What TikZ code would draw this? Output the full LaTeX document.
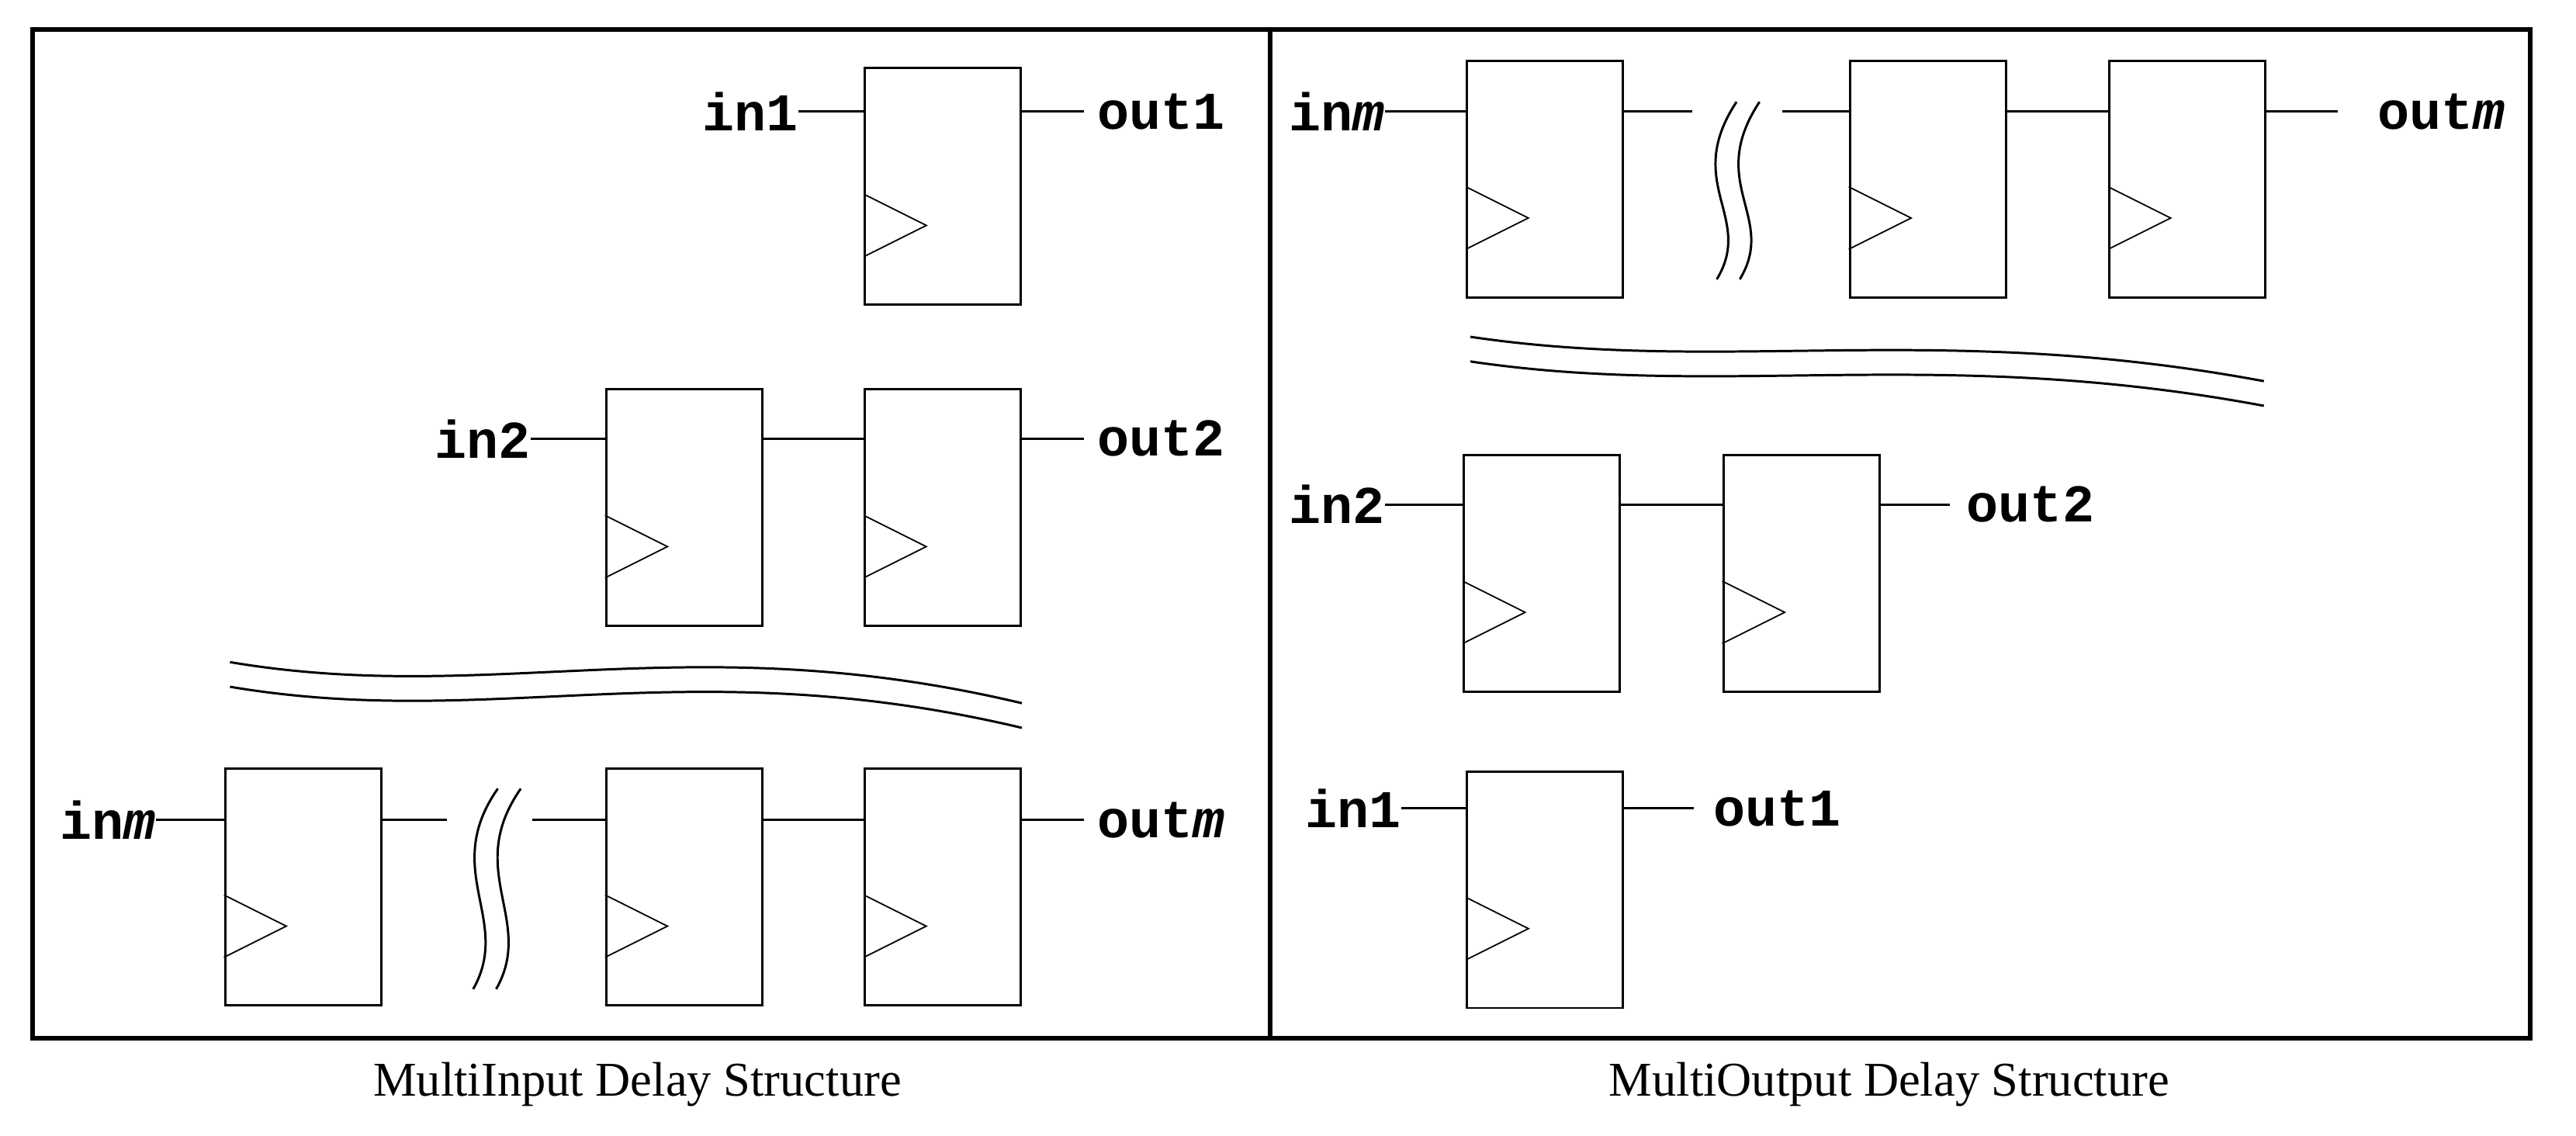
\documentclass[tikz,border=0pt]{standalone}
\usepackage{fontspec}
\setmainfont{Liberation Serif}
\newfontfamily\mono{Liberation Mono}
\begin{document}
\begin{tikzpicture}[x=0.05cm,y=-0.05cm,
 ff/.style={draw,line width=2pt,minimum width=4.75cm,minimum height=7.2cm,inner sep=0pt},
 w/.style={line width=2pt},
 lbl/.style={font=\mono\bfseries\fontsize{46}{50}\selectfont,inner sep=0pt},
 captxt/.style={font=\fontsize{42}{48}\selectfont}]
\useasboundingbox (0,0) rectangle (1568,691);
\draw[line width=4pt] (20,18) rectangle (1540,632);
\draw[line width=4pt] (773,18) -- (773,632);
\node[captxt] (t1) at (388,660) {MultiInput Delay Structure};
\node[captxt] (t2) at (1150,660) {MultiOutput Delay Structure};
% left
\node[ff] (a1) at (574,113.5) {};
\node[ff] (b1) at (416.5,309) {};
\node[ff] (b2) at (574,309) {};
\node[ff] (c1) at (184.5,540) {};
\node[ff] (c2) at (416.5,540) {};
\node[ff] (c3) at (574,540) {};
% right
\node[ff] (d1) at (940.5,109) {};
\node[ff] (d2) at (1173.5,109) {};
\node[ff] (d3) at (1331.5,109) {};
\node[ff] (e1) at (938.5,349) {};
\node[ff] (e2) at (1096.5,349) {};
\node[ff] (f1) at (940.5,541.5) {};
\foreach \b in {a1,b1,b2,c1,c2,c3,d1,d2,d3,e1,e2,f1}
 \draw[line width=1.2pt] ([yshift=1.5cm]\b.south west) -- ([xshift=1.9cm,yshift=2.45cm]\b.south west) -- ([yshift=3.4cm]\b.south west);
% labels
\node[lbl,anchor=east] (i1) at (486,68) {in1};
\node[lbl,anchor=west] (o1) at (668,68) {out1};
\node[lbl,anchor=east] (i2) at (323,267) {in2};
\node[lbl,anchor=west] (o2) at (668,267) {out2};
\node[lbl,anchor=east] (im) at (95,499) {in\textit{m}};
\node[lbl,anchor=west] (om) at (668,499) {out\textit{m}};
\node[lbl,anchor=east] (ri) at (843,68) {in\textit{m}};
\node[lbl,anchor=west] (ro) at (1447,68) {out\textit{m}};
\node[lbl,anchor=east] (r2) at (843,307) {in2};
\node[lbl,anchor=west] (s2) at (1197,307) {out2};
\node[lbl,anchor=east] (r1) at (853,492) {in1};
\node[lbl,anchor=west] (s1) at (1043,492) {out1};
% wires left
\draw[w] (i1.east) -- (i1.east -| a1.west);
\draw[w] (a1.east |- o1.west) -- ([xshift=-0.4cm]o1.west);
\draw[w] (i2.east) -- (i2.east -| b1.west);
\draw[w] (b1.east |- i2) -- (b2.west |- i2);
\draw[w] (b2.east |- o2.west) -- ([xshift=-0.4cm]o2.west);
\coordinate (k1) at (272,499); \coordinate (k2) at (324,499);
\draw[w] (im.east) -- (im.east -| c1.west);
\draw[w] (c1.east |- k1) -- (k1);
\draw[w] (k2) -- (c2.west |- k2);
\draw[w] (c2.east |- k2) -- (c3.west |- k2);
\draw[w] (c3.east |- om.west) -- ([xshift=-0.4cm]om.west);
\draw[w] (303,480) .. controls (268,530) and (312,560) .. (288,602);
\draw[w] (317,480) .. controls (282,530) and (326,560) .. (302,602);
\draw[w] (140,403) .. controls (300,430) and (420,380) .. (622,428);
\draw[w] (140,418) .. controls (300,445) and (420,395) .. (622,443);
% wires right
\coordinate (k3) at (1030,68); \coordinate (k4) at (1085,68);
\draw[w] (ri.east) -- (ri.east -| d1.west);
\draw[w] (d1.east |- k3) -- (k3);
\draw[w] (k4) -- (d2.west |- k4);
\draw[w] (d2.east |- k4) -- (d3.west |- k4);
\draw[w] (d3.east |- ro.west) -- ([xshift=-1.2cm]ro.west);
\draw[w] (1057,62) .. controls (1024,112) and (1068,132) .. (1045,170);
\draw[w] (1071,62) .. controls (1038,112) and (1082,132) .. (1059,170);
\draw[w] (895,205) .. controls (1050,228) and (1180,195) .. (1378,232);
\draw[w] (895,220) .. controls (1050,243) and (1180,210) .. (1378,247);
\draw[w] (r2.east) -- (r2.east -| e1.west);
\draw[w] (e1.east |- r2) -- (e2.west |- r2);
\draw[w] (e2.east |- s2.west) -- ([xshift=-0.5cm]s2.west);
\draw[w] (r1.east) -- (r1.east -| f1.west);
\draw[w] (f1.east |- s1.west) -- ([xshift=-0.6cm]s1.west);
\end{tikzpicture}
\end{document}
